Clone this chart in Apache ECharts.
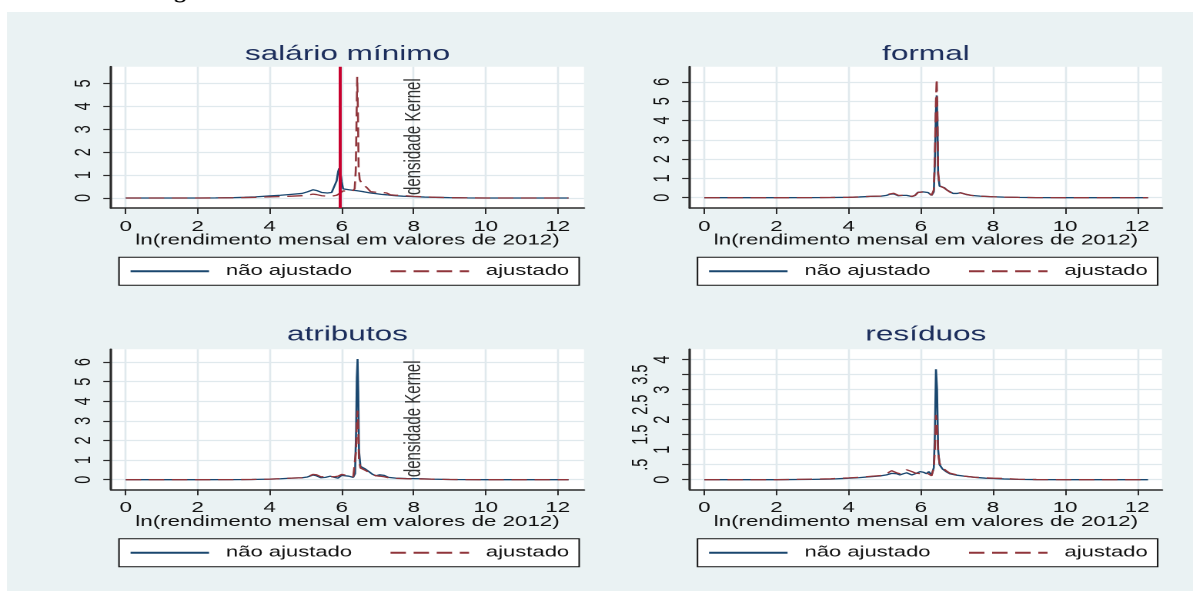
<!DOCTYPE html>
<html><head><meta charset="utf-8">
<script src="https://cdn.jsdelivr.net/npm/echarts@6/dist/echarts.min.js"></script>
<style>
html,body{margin:0;padding:0;background:#fff;overflow:hidden;}
#wrap{width:1193px;height:591px;overflow:hidden;position:relative;}
#c{width:775px;height:591px;transform:scaleX(1.539355);transform-origin:0 0;}
</style></head>
<body><div id="wrap"><div id="c"></div></div>
<script>
// ---------------- DATA ----------------
const panelTitles = ['salário mínimo', 'formal', 'atributos', 'resíduos'];
const seriesNames = ['não ajustado', 'ajustado'];
const xAxisTitle = 'ln(rendimento mensal em valores de 2012)';
const noteText = 'densidade Kernel';
const noteX = 8;
const noteY = 0.13;
const minWageLn = 5.93;

const xTickValues = [0, 2, 4, 6, 8, 10, 12];
const xTickLabels = ['0', '2', '4', '6', '8', '10', '12'];
const yTickValues1 = [0, 1, 2, 3, 4, 5];
const yTickLabels1 = ['0', '1', '2', '3', '4', '5'];
const yTickValues2 = [0, 1, 2, 3, 4, 5, 6];
const yTickLabels2 = ['0', '1', '2', '3', '4', '5', '6'];
const yTickValues4 = [0, 0.5, 1, 1.5, 2, 2.5, 3, 3.5, 4];
const yTickLabels4 = ['0', '.5', '1', '1.5', '2', '2.5', '3', '3.5', '4'];

const xSal = [0,0.5,1,1.5,2,2.5,3,3.3,3.6,4,4.3,4.6,4.9,5.05,5.2,5.3,5.45,5.6,5.72,5.8,5.86,5.9,5.93,5.96,6,6.04,6.1,6.2,6.3,6.36,6.39,6.41,6.43,6.45,6.47,6.5,6.55,6.62,6.7,6.8,6.95,7.1,7.25,7.35,7.5,7.7,8,8.3,8.6,9,9.5,10,11,12,12.3];
const salNao = [0,0,0,0,0,0.005,0.015,0.03,0.05,0.09,0.12,0.16,0.2,0.27,0.36,0.33,0.24,0.22,0.24,0.3,0.75,1.15,1.3,1.2,0.7,0.4,0.37,0.36,0.34,0.33,0.33,0.32,0.32,0.31,0.31,0.3,0.29,0.27,0.25,0.22,0.19,0.16,0.14,0.12,0.1,0.08,0.06,0.04,0.03,0.015,0.005,0,0,0,0];
const salAj = [0,0,0,0,0,0.005,0.01,0.02,0.03,0.05,0.06,0.08,0.1,0.13,0.17,0.15,0.1,0.08,0.08,0.1,0.12,0.15,0.18,0.22,0.27,0.31,0.32,0.3,0.3,0.4,1.2,3.2,5.29,3.8,1.3,0.8,0.65,0.55,0.45,0.28,0.25,0.25,0.22,0.14,0.12,0.11,0.07,0.05,0.03,0.015,0.005,0,0,0,0];

const xFormal = [0,1,2,3,3.5,4,4.3,4.6,4.9,5.05,5.15,5.25,5.38,5.5,5.61,5.75,5.84,5.92,6,6.06,6.12,6.2,6.3,6.36,6.39,6.42,6.44,6.46,6.48,6.52,6.58,6.65,6.72,6.8,6.9,7,7.1,7.18,7.27,7.4,7.64,8,8.3,8.7,9.2,10,11,12,12.3];
const formalNao = [0,0,0,0.005,0.01,0.02,0.04,0.07,0.08,0.12,0.18,0.2,0.1,0.12,0.12,0.06,0.12,0.28,0.35,0.3,0.22,0.27,0.12,0.3,1.8,4.5,5.3,4.0,1.2,0.6,0.62,0.52,0.4,0.3,0.22,0.22,0.26,0.25,0.16,0.12,0.08,0.05,0.03,0.015,0.005,0,0,0,0];
const formalAj = [0,0,0,0.005,0.01,0.02,0.04,0.07,0.09,0.13,0.2,0.23,0.12,0.12,0.12,0.07,0.12,0.27,0.33,0.3,0.22,0.26,0.13,0.4,2.2,5.0,6.13,4.5,1.3,0.62,0.6,0.5,0.4,0.3,0.22,0.22,0.25,0.24,0.17,0.12,0.08,0.05,0.03,0.015,0.005,0,0,0,0];

const xAtrib = [0,1,2,3,3.5,4,4.3,4.6,4.9,5.05,5.2,5.3,5.42,5.55,5.68,5.8,5.9,6,6.08,6.2,6.32,6.37,6.4,6.42,6.44,6.46,6.48,6.52,6.58,6.65,6.75,6.85,6.95,7.05,7.1,7.18,7.3,7.5,7.8,8.2,8.5,9,10,11,12,12.3];
const atribNao = [0,0,0,0.005,0.01,0.03,0.05,0.08,0.1,0.14,0.24,0.2,0.1,0.12,0.18,0.12,0.08,0.22,0.25,0.18,0.12,0.3,2.5,5.2,6.16,4.5,1.5,0.68,0.63,0.55,0.42,0.28,0.2,0.25,0.29,0.22,0.12,0.08,0.06,0.05,0.03,0.01,0,0,0,0];
const atribAj = [0,0,0,0.005,0.01,0.03,0.05,0.08,0.1,0.15,0.27,0.25,0.15,0.15,0.16,0.15,0.18,0.27,0.25,0.2,0.15,0.25,1.5,3.0,3.52,2.6,1.0,0.6,0.55,0.48,0.38,0.28,0.2,0.18,0.18,0.15,0.1,0.07,0.05,0.04,0.03,0.01,0,0,0,0];

const xResid = [0,1,2,3,3.5,4,4.3,4.6,4.9,5.05,5.19,5.24,5.33,5.42,5.52,5.61,5.68,5.75,5.85,5.98,6.07,6.16,6.22,6.3,6.36,6.39,6.42,6.45,6.48,6.52,6.6,6.7,6.8,7,7.2,7.5,7.8,8,8.3,8.7,9.2,10,11,12,12.3];
const residNao = [0,0,0,0.01,0.02,0.05,0.07,0.1,0.13,0.16,0.21,0.23,0.2,0.16,0.2,0.23,0.2,0.16,0.2,0.27,0.25,0.2,0.27,0.16,0.4,1.5,3.68,3.0,1.0,0.5,0.36,0.27,0.2,0.15,0.12,0.08,0.05,0.04,0.025,0.01,0.005,0,0,0,0];
const residAj = [0,0,0,0.02,0.03,0.06,0.08,0.11,0.14,0.2,0.3,0.3,0.23,0.2,0.26,0.33,0.33,0.27,0.22,0.2,0.22,0.23,0.2,0.13,0.4,1.0,2.16,1.9,0.9,0.55,0.4,0.3,0.22,0.16,0.12,0.08,0.06,0.05,0.04,0.015,0.005,0,0,0,0];

// ---------------- LAYOUT / STYLE ----------------
const S = 1193 / 775;           // horizontal stretch of the reference
const FONT = 'Liberation Sans, Arial, sans-serif';
const BLUE = '#1a476f', RED = '#90353b', VLINE = '#c8002d';
const GRIDC = '#e0e9ed', AXISC = '#2b2b2b', TITLEC = '#1c2e5c', BG = '#eaf2f3';

const panels = [
  { title: panelTitles[0], x: xSal, nao: salNao, aj: salAj, yv: yTickValues1, yl: yTickLabels1, vline: true, note: true,
    L: { l: 111, r: 584, t: 66.7, b: 208, x0: 125.7, x12: 557.7, y0: 198, yT: 83.5, titleY: 54.3, legTop: 257.3, legLeft: 119 } },
  { title: panelTitles[1], x: xFormal, nao: formalNao, aj: formalAj, yv: yTickValues2, yl: yTickLabels2,
    L: { l: 689.8, r: 1162, t: 66.7, b: 208, x0: 704.4, x12: 1137.2, y0: 197.7, yT: 81.9, titleY: 54.3, legTop: 257.3, legLeft: 697.5 } },
  { title: panelTitles[2], x: xAtrib, nao: atribNao, aj: atribAj, yv: yTickValues2, yl: yTickLabels2, note: true,
    L: { l: 111, r: 584, t: 349.3, b: 489.3, x0: 125.7, x12: 557.7, y0: 479.7, yT: 362.1, titleY: 334.6, legTop: 538.7, legLeft: 119 } },
  { title: panelTitles[3], x: xResid, nao: residNao, aj: residAj, yv: yTickValues4, yl: yTickLabels4, stagger: true,
    L: { l: 689.8, r: 1162, t: 349.3, b: 489.3, x0: 704.4, x12: 1137.2, y0: 479.7, yT: 359.7, titleY: 334.6, legTop: 538.7, legLeft: 697.5 } }
];

const grids = [], xAxes = [], yAxes = [], series = [], legends = [];
const graphics = [
  { type: 'rect', shape: { x: 7 / S, y: 12, width: 800, height: 600 }, style: { fill: BG }, z: -100, silent: true },
  { type: 'text', x: 180 / S, y: -5.5, style: { text: 'g', font: '17px ' + FONT, fill: '#000', align: 'center', verticalAlign: 'middle' }, silent: true }
];

panels.forEach(p => {
  const L = p.L;
  const l = L.l / S, r = L.r / S, x0 = L.x0 / S, x12 = L.x12 / S;
  const xMinT = xTickValues[0], xMaxT = xTickValues[xTickValues.length - 1];
  const yMinT = p.yv[0], yMaxT = p.yv[p.yv.length - 1];
  const xInt = xTickValues[1] - xTickValues[0], yInt = p.yv[1] - p.yv[0];
  const xs = (x12 - x0) / (xMaxT - xMinT);
  const ys = (L.y0 - L.yT) / (yMaxT - yMinT);
  const oxMin = xMinT - (x0 - l) / xs, oxMax = xMaxT + (r - x12) / xs;
  const oyMin = yMinT - (L.b - L.y0) / ys, oyMax = yMaxT + (L.yT - L.t) / ys;

  // outer grid: white plot region, axis lines, data
  const gO = grids.length;
  grids.push({ left: l, top: L.t, width: r - l, height: L.b - L.t, show: true, backgroundColor: '#fff', borderWidth: 0, containLabel: false, outerBoundsMode: 'none' });
  const axO = xAxes.length, ayO = yAxes.length;
  xAxes.push({ gridIndex: gO, type: 'value', min: oxMin, max: oxMax,
    axisLine: { show: true, onZero: false, lineStyle: { color: AXISC, width: 1.6 } },
    axisTick: { show: false }, axisLabel: { show: false }, splitLine: { show: false },
    name: xAxisTitle, nameLocation: 'middle', nameGap: 25.2, nameMoveOverlap: false,
    nameTextStyle: { fontFamily: FONT, fontSize: 14.5, color: '#111' } });
  yAxes.push({ gridIndex: gO, type: 'value', min: oyMin, max: oyMax,
    axisLine: { show: true, onZero: false, lineStyle: { color: AXISC, width: 1.6 } },
    axisTick: { show: false }, axisLabel: { show: false }, splitLine: { show: false } });

  // x tick grid
  const gX = grids.length;
  grids.push({ left: x0, top: L.t, width: x12 - x0, height: L.b - L.t, containLabel: false, outerBoundsMode: 'none' });
  xAxes.push({ gridIndex: gX, type: 'value', min: xMinT, max: xMaxT, interval: xInt,
    axisLine: { show: false, onZero: false },
    axisTick: { show: true, length: 6, lineStyle: { color: AXISC, width: 1 } },
    axisLabel: { show: true, margin: 11.4, fontFamily: FONT, fontSize: 14.5, color: '#111',
      formatter: v => xTickLabels[Math.round((v - xMinT) / xInt)] },
    splitLine: { show: true, lineStyle: { color: GRIDC, width: 1.3 } } });
  yAxes.push({ gridIndex: gX, type: 'value', show: false, min: 0, max: 1 });

  // y tick grid
  const gY = grids.length;
  grids.push({ left: l, top: L.yT, width: r - l, height: L.y0 - L.yT, containLabel: false, outerBoundsMode: 'none' });
  xAxes.push({ gridIndex: gY, type: 'value', show: false, min: 0, max: 1 });
  yAxes.push({ gridIndex: gY, type: 'value', min: yMinT, max: yMaxT, interval: yInt,
    axisLine: { show: false, onZero: false },
    axisTick: { show: true, length: 5, lineStyle: { color: AXISC, width: 1.2 } },
    axisLabel: { show: true, rotate: 90, margin: 10, fontFamily: FONT, fontSize: 14.5, color: '#111',
      formatter: v => { const k = Math.round((v - yMinT) / yInt); return (p.stagger && k % 2 === 1) ? '' : p.yl[k]; } },
    splitLine: { show: true, lineStyle: { color: GRIDC, width: 1.3 } } });

  if (p.stagger) {
    const gY2 = grids.length;
    grids.push({ left: l, top: L.yT, width: r - l, height: L.y0 - L.yT, containLabel: false, outerBoundsMode: 'none' });
    xAxes.push({ gridIndex: gY2, type: 'value', show: false, min: 0, max: 1 });
    yAxes.push({ gridIndex: gY2, type: 'value', min: yMinT, max: yMaxT, interval: yInt,
      axisLine: { show: false, onZero: false }, axisTick: { show: false }, splitLine: { show: false },
      axisLabel: { show: true, rotate: 90, margin: 24, fontFamily: FONT, fontSize: 14.5, color: '#111',
        formatter: v => { const k = Math.round((v - yMinT) / yInt); return k % 2 === 1 ? p.yl[k] : ''; } } });
  }

  const blue = { type: 'line', name: seriesNames[0], xAxisIndex: axO, yAxisIndex: ayO,
    data: p.x.map((x, k) => [x, p.nao[k]]), symbol: 'none', silent: true, z: 3,
    lineStyle: { color: BLUE, width: 1.3 }, itemStyle: { color: BLUE } };
  if (p.vline) {
    blue.markLine = { silent: true, symbol: ['none', 'none'], label: { show: false },
      lineStyle: { color: VLINE, width: 2, type: 'solid' }, data: [{ xAxis: minWageLn }], z: 6 };
  }
  series.push(blue);
  series.push({ type: 'line', name: seriesNames[1], xAxisIndex: axO, yAxisIndex: ayO,
    data: p.x.map((x, k) => [x, p.aj[k]]), symbol: 'none', silent: true, z: 4,
    lineStyle: { color: RED, width: 1.3, type: [10, 5] }, itemStyle: { color: RED } });
  if (p.note) {
    series.push({ type: 'scatter', name: 'nota', xAxisIndex: axO, yAxisIndex: ayO,
      data: [[noteX, noteY]], symbolSize: 1, itemStyle: { color: 'rgba(0,0,0,0)' }, silent: true, z: 7,
      label: { show: true, formatter: noteText, position: 'inside', rotate: 90, align: 'left', verticalAlign: 'middle',
        fontFamily: FONT, fontSize: 15, color: '#000' } });
  }

  graphics.push({ type: 'text', x: (l + r) / 2, y: L.titleY, silent: true,
    style: { text: p.title, font: '20.5px ' + FONT, fill: TITLEC, align: 'center', verticalAlign: 'middle' } });

  legends.push({ show: true, data: seriesNames.slice(), left: L.legLeft / S, top: L.legTop, orient: 'horizontal',
    itemWidth: 51, itemHeight: 14, itemGap: 24, padding: [7, 6.5], borderColor: '#111', borderWidth: 1,
    backgroundColor: '#fff', borderRadius: 0, selectedMode: false,
    itemStyle: { opacity: 0, borderWidth: 0 },
    textStyle: { fontFamily: FONT, fontSize: 14.3, color: '#111', padding: [0, 0, 0, 6] } });
});

const chart = echarts.init(document.getElementById('c'), null, { renderer: 'canvas', devicePixelRatio: 2 });
chart.setOption({
  animation: false,
  backgroundColor: '#fff',
  textStyle: { fontFamily: FONT },
  grid: grids, xAxis: xAxes, yAxis: yAxes, series: series, legend: legends,
  graphic: graphics,
  tooltip: { show: false }
});
</script>
</body></html>
